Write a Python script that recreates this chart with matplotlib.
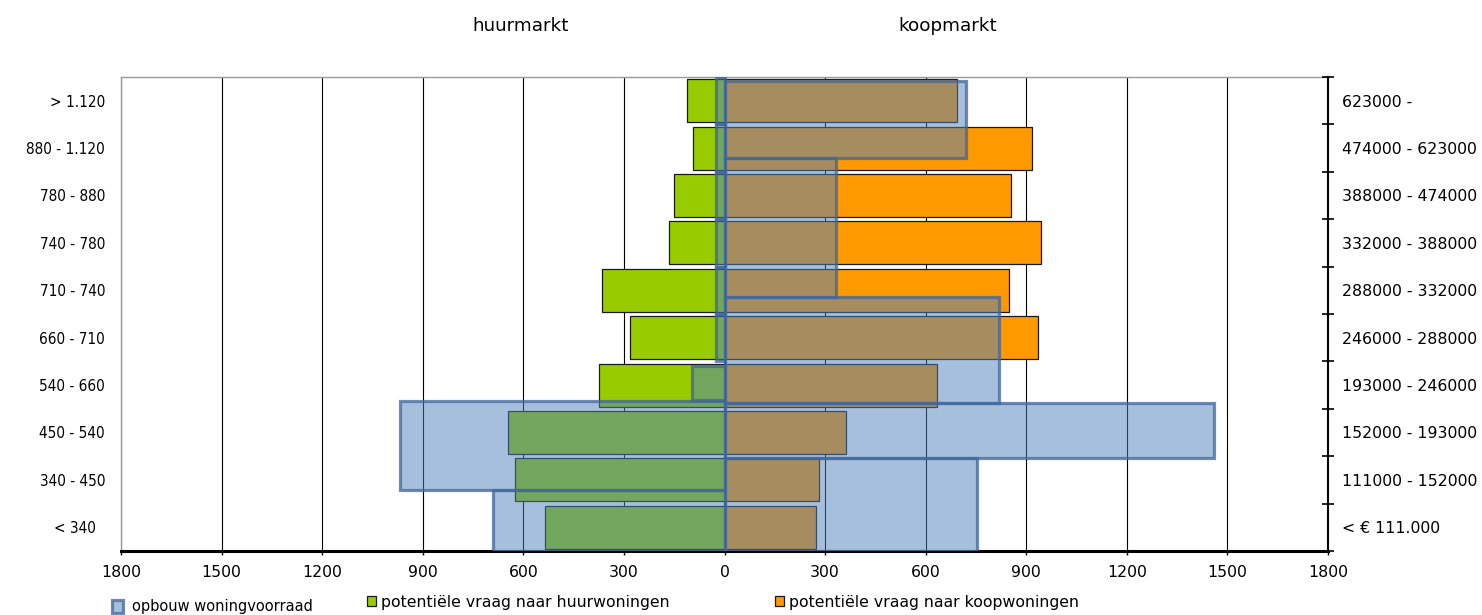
import matplotlib
matplotlib.use("Agg")
import matplotlib.pyplot as plt
from matplotlib.ticker import FuncFormatter, FixedLocator
import numpy as np

# ---------------- data ----------------
rent_labels = ["< 340  ", "340 - 450", "450 - 540", "540 - 660", "660 - 710",
               "710 - 740", "740 - 780", "780 - 880", "880 - 1.120", "> 1.120"]
buy_labels = ["< \u20ac 111.000", "111000 - 152000", "152000 - 193000", "193000 - 246000",
              "246000 - 288000", "288000 - 332000", "332000 - 388000", "388000 - 474000",
              "474000 - 623000", "623000 -"]

# potential demand (bottom row first)
rent_demand = [534, 626, 645, 373, 281, 366, 166, 151, 95, 113]
buy_demand = [274, 281, 363, 635, 934, 848, 945, 856, 918, 694]

# housing stock (opbouw woningvoorraad): value and lower/upper band bounds in row units
rent_stock = [691, 967, 97, 25, 25, 25, 25, 25, 25]
rent_stock_lo = [0.0, 1.29, 3.19, 4.0, 5.0, 6.0, 7.0, 8.0, 9.0]
rent_stock_hi = [1.29, 3.17, 3.90, 5.0, 6.0, 7.0, 8.0, 9.0, 10.0]

buy_stock = [753, 1461, 819, 334, 719]
buy_stock_lo = [0.0, 1.956, 3.122, 5.365, 8.281]
buy_stock_hi = [1.956, 3.122, 5.365, 8.281, 9.916]

xticks = [-1800, -1500, -1200, -900, -600, -300, 0, 300, 600, 900, 1200, 1500, 1800]

# ---------------- style ----------------
GREEN = "#99CC00"
ORANGE = "#FF9900"
BLUE_FACE = (79/255, 129/255, 189/255, 0.5)
BLUE_EDGE = (0.25, 0.40, 0.60, 0.75)
FS = 11.3

plt.rcParams['font.family'] = ['DejaVu Sans']

fig = plt.figure(figsize=(14.82, 6.15), dpi=100)
ax = fig.add_axes([121/1482, 1 - 551/615, (1328 - 121)/1482, (551 - 77)/615])

n = len(rent_labels)
rows = np.arange(n) + 0.5

ax.set_xlim(-1800, 1800)
ax.set_ylim(0, n)

# grid
ax.set_axisbelow(True)
ax.xaxis.set_major_locator(FixedLocator(xticks))
ax.xaxis.grid(True, color="black", linewidth=0.8)
ax.axvline(0, color="black", linewidth=1.3, zorder=1.5)

# demand bars
green_bars = ax.barh(rows, [-v for v in rent_demand], height=0.91, color=GREEN,
                     edgecolor="#1a1a1a", linewidth=0.9, zorder=2)
orange_bars = ax.barh(rows, buy_demand, height=0.91, color=ORANGE,
                      edgecolor="#1a1a1a", linewidth=0.9, zorder=2)

# stock bars (translucent on top)
rs_h = [hi - lo for lo, hi in zip(rent_stock_lo, rent_stock_hi)]
bs_h = [hi - lo for lo, hi in zip(buy_stock_lo, buy_stock_hi)]
blue_left = ax.barh(rent_stock_lo, [-v for v in rent_stock], height=rs_h, align="edge",
                    facecolor=BLUE_FACE, edgecolor=BLUE_EDGE, linewidth=2.3, zorder=3)
blue_right = ax.barh(buy_stock_lo, buy_stock, height=bs_h, align="edge",
                     facecolor=BLUE_FACE, edgecolor=BLUE_EDGE, linewidth=2.3, zorder=3)

# x axis
ax.xaxis.set_major_formatter(FuncFormatter(lambda v, p: f"{abs(int(v))}"))
ax.tick_params(axis="x", direction="out", length=3, width=1, color="black",
               labelsize=FS, pad=7)

# left y axis
ax.set_yticks(rows)
ax.set_yticklabels(rent_labels, fontsize=11, fontstretch="condensed")
ax.tick_params(axis="y", length=0, pad=11.5)

# spines
for s in ("left", "top"):
    ax.spines[s].set_color("#999999")
    ax.spines[s].set_linewidth(1.0)
ax.spines["bottom"].set_color("black")
ax.spines["bottom"].set_linewidth(2.2)
ax.spines["right"].set_visible(False)

# right y axis
ax2 = ax.twinx()
ax2.set_ylim(0, n)
ax2.set_yticks(np.arange(n + 1))
ax2.set_yticklabels([""] * (n + 1))
ax2.set_yticks(rows, minor=True)
ax2.set_yticklabels(buy_labels, minor=True)
ax2.tick_params(axis="y", which="major", direction="inout", length=9, width=1.2, color="black")
ax2.tick_params(axis="y", which="minor", length=0, labelsize=FS, pad=10)
for s in ("left", "top", "bottom"):
    ax2.spines[s].set_visible(False)
ax2.spines["right"].set_color("black")
ax2.spines["right"].set_linewidth(1.5)

# titles
fig.text(520.8/1482, 1 - 31/615, "huurmarkt", ha="center", va="baseline", fontsize=13.2)
fig.text(948/1482, 1 - 31/615, "koopmarkt", ha="center", va="baseline", fontsize=13.2)

# legends
fig.legend(handles=[blue_right], labels=["opbouw woningvoorraad"], loc="center left",
           bbox_to_anchor=(112/1482, 1 - 607/615), bbox_transform=fig.transFigure,
           frameon=False, fontsize=10.5, borderpad=0, borderaxespad=0,
           handlelength=0.75, handleheight=1.0, handletextpad=0.6)
fig.legend(handles=[green_bars], labels=["potenti\u00eble vraag naar huurwoningen"], loc="center left",
           bbox_to_anchor=(367/1482, 1 - 602/615), bbox_transform=fig.transFigure,
           frameon=False, fontsize=FS, borderpad=0, borderaxespad=0,
           handlelength=0.57, handleheight=0.65, handletextpad=0.3)
fig.legend(handles=[orange_bars], labels=["potenti\u00eble vraag naar koopwoningen"], loc="center left",
           bbox_to_anchor=(775/1482, 1 - 602/615), bbox_transform=fig.transFigure,
           frameon=False, fontsize=FS, borderpad=0, borderaxespad=0,
           handlelength=0.57, handleheight=0.65, handletextpad=0.3)

fig.savefig("out.png", dpi=100)
